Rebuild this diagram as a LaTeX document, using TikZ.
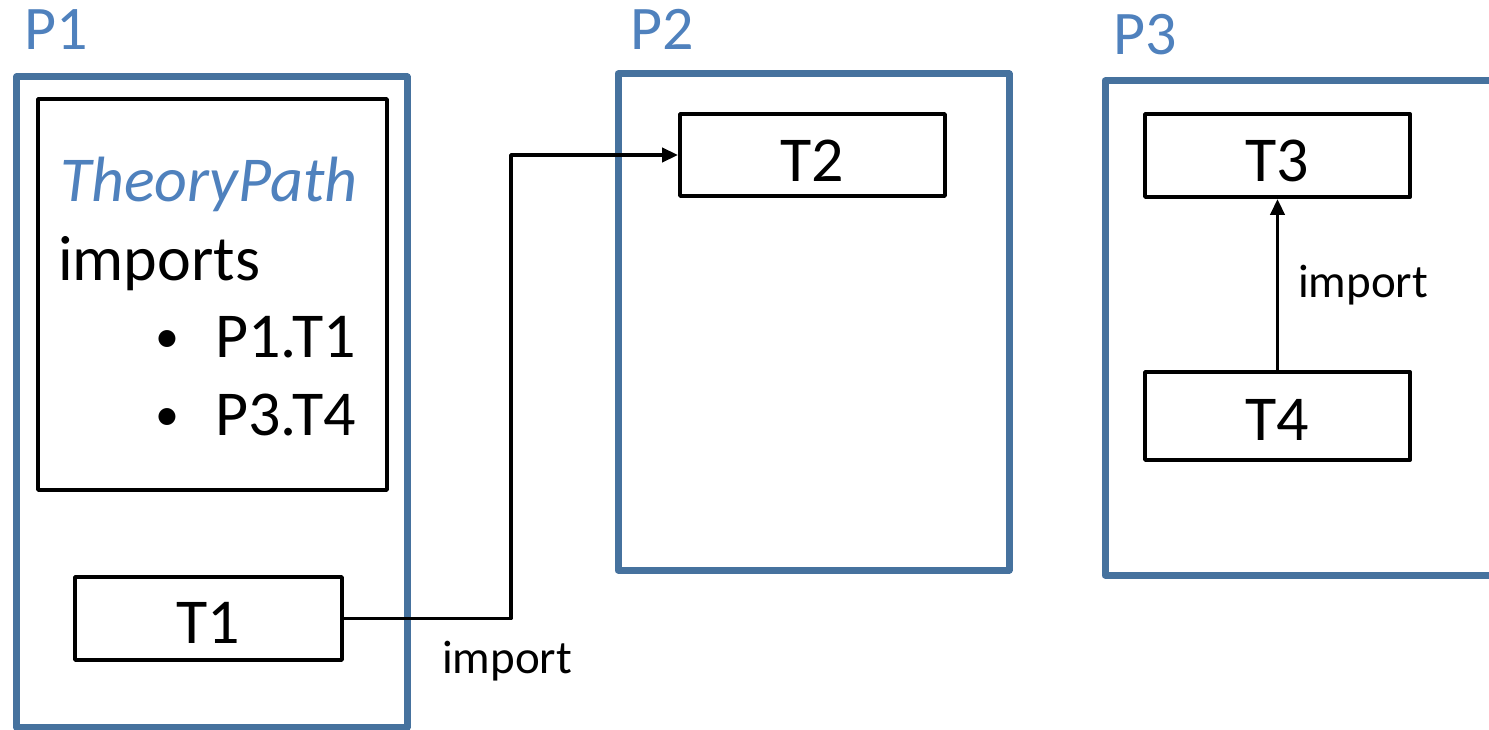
\documentclass[tikz,border=0pt]{standalone}
\usepackage{fontspec}
\setmainfont{Carlito}
\usetikzlibrary{arrows.meta}
\definecolor{pkgline}{RGB}{70,114,158}
\definecolor{pkgtext}{RGB}{79,129,189}
\tikzset{
  pkgbox/.style={draw=pkgline, line width=7pt, line join=round},
  thbox/.style={draw=black, line width=3.8pt, line join=round},
  pkglabel/.style={text=pkgtext, inner sep=0pt, anchor=base west, font=\fontsize{62}{70}\selectfont},
  big/.style={inner sep=0pt, font=\fontsize{64}{72}\selectfont},
  dot/.style={inner sep=0pt, anchor=base, font=\fontsize{48}{54}\selectfont},
  small/.style={inner sep=0pt, anchor=base west, font=\fontsize{47}{54}\selectfont},
  imp/.style={line width=3.8pt, -{Triangle[length=16pt,width=14pt]}}
}
\begin{document}
\begin{tikzpicture}[x=1pt,y=-1pt]
\useasboundingbox (0,0) rectangle (1489,730);

% packages
\draw[pkgbox] (16.5,77) rectangle (407,727);
\draw[pkgbox] (618,74) rectangle (1009,570);
\draw[pkgbox] (1105,81) rectangle (1500,575);
\node[pkglabel] (p1) at (24,50) {P1};
\node[pkglabel] (p2) at (630,50) {P2};
\node[pkglabel] (p3) at (1113,55) {P3};

% theory path note
\draw[thbox] (38,99) rectangle (387,490);
\node[big, anchor=base west, text=pkgtext] (tp) at (60,202) {\itshape TheoryPath};
\node[big, anchor=base west] (imps) at (58,280) {imports};
\node[dot] (b1) at (167,352) {•};
\node[big, anchor=base west] (i1) at (215,357) {P1.T1};
\node[dot] (b2) at (167,430) {•};
\node[big, anchor=base west] (i2) at (215,435) {P3.T4};

% theories
\node[thbox, big, minimum width=267pt, minimum height=83pt] (t1) at (208.5,618.5) {};
\node[thbox, big, minimum width=265pt, minimum height=82pt] (t2) at (812.5,155) {};
\node[thbox, big, minimum width=265pt, minimum height=83pt] (t3) at (1277.5,155.5) {};
\node[thbox, big, minimum width=265pt, minimum height=88pt] (t4) at (1277.5,416) {};
\node[big, anchor=base] (t1n) at (208.5,643) {T1};
\node[big, anchor=base] (t2n) at (812.5,182) {T2};
\node[big, anchor=base] (t3n) at (1277.5,182) {T3};
\node[big, anchor=base] (t4n) at (1277.5,440) {T4};

% imports
\coordinate (bend) at (511,0);
\draw[imp, line join=round] (t1.east) -- (t1.east -| bend) -- (bend |- t2.west) -- (t2.west);
\node[small] (l1) at (442,673) {import};
\draw[imp] (t4.north) -- (t3.south);
\node[small] (l2) at (1298,298) {import};
\end{tikzpicture}
\end{document}
